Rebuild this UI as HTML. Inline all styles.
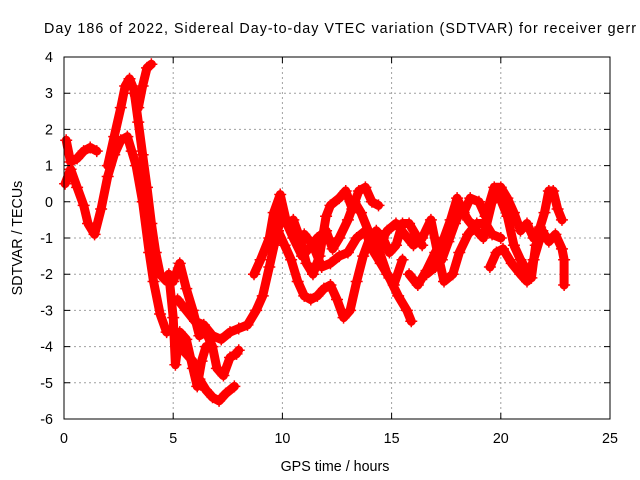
<!DOCTYPE html>
<html><head><meta charset="utf-8"><style>
html,body{margin:0;padding:0;background:#fff;width:640px;height:480px;overflow:hidden}
svg{display:block;font-family:"Liberation Sans",sans-serif}
</style></head><body>
<svg id="chart" width="640" height="480" viewBox="0 0 640 480">
<text x="44" y="33" font-size="14.3" fill="#000" textLength="592" lengthAdjust="spacing">Day 186 of 2022, Sidereal Day-to-day VTEC variation (SDTVAR) for receiver gerr</text>
<g id="grid"></g>
<g id="series"></g>
<rect x="64" y="57" width="546" height="362" fill="none" stroke="#000" stroke-width="1"/>
<g id="ticks"></g>
<text x="335" y="471" font-size="14.3" text-anchor="middle">GPS time / hours</text>
<text x="0" y="0" font-size="14.3" text-anchor="middle" transform="translate(22,238) rotate(-90)">SDTVAR / TECUs</text>
</svg>
<script>
const xTicks=[0,5,10,15,20,25];
const yTicks=[4,3,2,1,0,-1,-2,-3,-4,-5,-6];
const s1=[[0.05,0.5],[0.3,0.9],[0.6,0.4],[0.9,-0.1],[1.1,-0.6],[1.4,-0.9],[1.7,-0.2],[2.0,0.7],[2.3,1.3],[2.6,1.7],[2.9,1.8],[3.1,1.4],[3.3,1.0],[3.6,0.0],[3.9,-1.4],[4.1,-2.2],[4.4,-3.1],[4.7,-3.6],[5.0,-3.5],[5.3,-4.0],[5.6,-4.2],[5.9,-4.4],[6.2,-4.9],[6.5,-5.2],[6.8,-5.4],[7.1,-5.5],[7.4,-5.3],[7.8,-5.1]];
const s2=[[0.1,1.7],[0.3,1.1],[0.6,1.2],[0.9,1.4],[1.2,1.5],[1.5,1.4]];
const s3=[[2.0,1.0],[2.3,1.8],[2.6,2.6],[2.8,3.2],[3.0,3.4],[3.2,3.1],[3.4,2.2],[3.6,1.3],[3.8,0.4],[4.0,-0.6],[4.2,-1.4],[4.4,-2.0],[4.7,-2.2],[5.0,-2.2],[5.3,-1.7],[5.6,-2.4],[5.9,-3.0],[6.2,-3.7],[6.5,-3.6],[6.8,-4.0],[7.0,-4.6],[7.3,-4.8],[7.6,-4.3],[7.9,-4.2],[8.0,-4.1]];
const s4=[[3.2,3.0],[3.4,2.6],[3.6,3.2],[3.8,3.7],[4.0,3.8]];
const s5=[[4.8,-2.0],[5.0,-3.2],[5.1,-4.5],[5.3,-3.6],[5.6,-3.8],[5.9,-4.6],[6.1,-5.1],[6.3,-4.4],[6.5,-4.0]];
const s6=[[5.2,-2.7],[5.6,-3.0],[6.0,-3.3],[6.4,-3.4],[6.8,-3.7],[7.2,-3.8],[7.6,-3.6],[8.0,-3.5],[8.4,-3.4],[8.8,-3.0],[9.1,-2.6],[9.4,-1.8],[9.7,-1.0],[10.0,-0.3],[10.2,-0.6],[10.5,-1.0],[10.9,-1.5],[11.2,-1.3],[11.6,-1.0],[12.0,-0.8],[12.3,-1.3],[12.6,-1.0],[13.0,-0.5],[13.3,0.0],[13.6,-0.3],[14.0,-0.9],[14.4,-1.3],[14.8,-2.0],[15.1,-2.3],[15.5,-1.6]];
const s7=[[8.7,-2.0],[9.0,-1.6],[9.4,-1.0],[9.6,-0.3],[9.9,0.2],[10.2,-0.6],[10.5,-0.5],[10.8,-1.0],[11.1,-1.7],[11.4,-2.0],[11.7,-1.5],[12.0,-0.4],[12.2,-0.1],[12.6,0.1],[12.9,0.3],[13.2,-0.2],[13.5,0.3],[13.8,0.4],[14.1,0.0],[14.4,-0.1]];
const s8=[[9.5,-1.2],[9.8,-0.8],[10.1,-1.2],[10.4,-1.6],[10.7,-2.2],[11.0,-2.6],[11.3,-2.7],[11.6,-2.6],[11.9,-2.4],[12.2,-2.3],[12.5,-2.7],[12.8,-3.2],[13.1,-3.0],[13.4,-2.2],[13.7,-1.5],[14.0,-1.0],[14.3,-0.8],[14.6,-1.0],[14.9,-1.4],[15.2,-1.2],[15.5,-0.6],[15.8,-0.6],[16.1,-0.9],[16.4,-1.2]];
const s9=[[11.0,-0.9],[11.4,-1.2],[11.8,-1.8],[12.2,-1.7],[12.6,-1.5],[13.0,-1.4],[13.4,-1.0],[13.8,-0.8],[14.1,-1.3],[14.5,-1.7],[14.9,-2.1],[15.3,-2.6],[15.7,-3.0],[15.9,-3.3]];
const s10=[[14.4,-1.2],[14.8,-0.8],[15.2,-0.6],[15.6,-0.9],[16.0,-1.2],[16.4,-1.0],[16.8,-0.5],[17.1,-1.4],[17.4,-2.2],[17.8,-2.0],[18.1,-1.4],[18.5,-0.9],[18.9,-0.6],[19.3,-0.6],[19.6,-0.9],[20.0,-1.0]];
const s11=[[15.8,-2.0],[16.2,-2.3],[16.6,-1.9],[17.0,-1.4],[17.4,-1.0],[17.7,-0.5],[18.0,0.1],[18.3,-0.3],[18.6,0.1],[19.0,0.0],[19.3,-0.4],[19.7,0.4],[20.0,0.4],[20.3,0.1],[20.6,-0.3],[20.9,-0.8],[21.2,-0.6],[21.5,-1.0],[21.8,-0.7],[22.0,-0.3],[22.2,0.3],[22.4,0.3],[22.6,-0.2],[22.8,-0.5]];
const s12=[[16.6,-2.0],[17.0,-1.8],[17.3,-1.6],[17.6,-1.1],[17.9,-0.6],[18.2,-0.2],[18.5,-0.5],[18.9,-0.8],[19.2,-1.0],[19.6,0.0],[19.9,0.2],[20.3,-0.4],[20.6,-1.2],[20.9,-1.6],[21.2,-1.9],[21.4,-2.1],[21.6,-1.2],[21.9,-0.8],[22.2,-1.1],[22.5,-0.9],[22.8,-1.3],[22.9,-1.6],[22.9,-2.3]];
const s13=[[19.5,-1.8],[19.8,-1.4],[20.1,-1.3],[20.5,-1.7],[20.9,-2.0],[21.2,-2.2],[21.5,-1.6],[21.8,-1.0]];
const allSeries=[s1,s2,s3,s4,s5,s6,s7,s8,s9,s10,s11,s12,s13];

const NS="http://www.w3.org/2000/svg";
const X0=64,X1=610,Y0=419,Y1=57;
function xs(t){return X0+(t-0)/(25-0)*(X1-X0);}
function ys(v){return Y0-(v-(-6))/(4-(-6))*(Y0-Y1);}
function mk(tag,attrs){const e=document.createElementNS(NS,tag);for(const k in attrs)e.setAttribute(k,attrs[k]);return e;}
const grid=document.getElementById('grid'),ticks=document.getElementById('ticks'),ser=document.getElementById('series');
xTicks.forEach(t=>{
  const x=xs(t);
  if(t>0&&t<25){const g=mk('line',{x1:x,y1:Y1,x2:x,y2:Y0,stroke:'#a0a0a0','stroke-dasharray':'2,3'});
  
  
  grid.appendChild(g);}
  const tk=mk('path',{d:`M${x},${Y0}v-6M${x},${Y1}v6`,stroke:'#000'});
  
  
  ticks.appendChild(tk);
  const l=mk('text',{x:x,y:443,'font-size':'14.3','text-anchor':'middle'});l.textContent=t;
  
  
  ticks.appendChild(l);
});
yTicks.forEach(v=>{
  const y=ys(v);
  if(v>-6&&v<4){const g=mk('line',{x1:X0,y1:y,x2:X1,y2:y,stroke:'#a0a0a0','stroke-dasharray':'2,3'});
  
  
  grid.appendChild(g);}
  const tk=mk('path',{d:`M${X0},${y}h6M${X1},${y}h-6`,stroke:'#000'});
  
  
  ticks.appendChild(tk);
  const l=mk('text',{x:53,y:y+5,'font-size':'14.3','text-anchor':'end'});l.textContent=v;
  
  
  ticks.appendChild(l);
});
allSeries.forEach((s,i)=>{
  const d=s.map((p,j)=>(j?'L':'M')+xs(p[0]).toFixed(1)+','+ys(p[1]).toFixed(1)).join('');
  const pl=mk('path',{d:d,fill:'none',stroke:'#ff0000','stroke-width':'9','stroke-linejoin':'round','stroke-linecap':'round'});
  
  
  ser.appendChild(pl);
  s.forEach(p=>{
    const x=xs(p[0]),y=ys(p[1]);
    const m=mk('path',{d:`M${x-6},${y}h12M${x},${y-6}v12`,stroke:'#ff0000','stroke-width':'1.5'});
    
    
    ser.appendChild(m);
  });
});
</script>
</body></html>
